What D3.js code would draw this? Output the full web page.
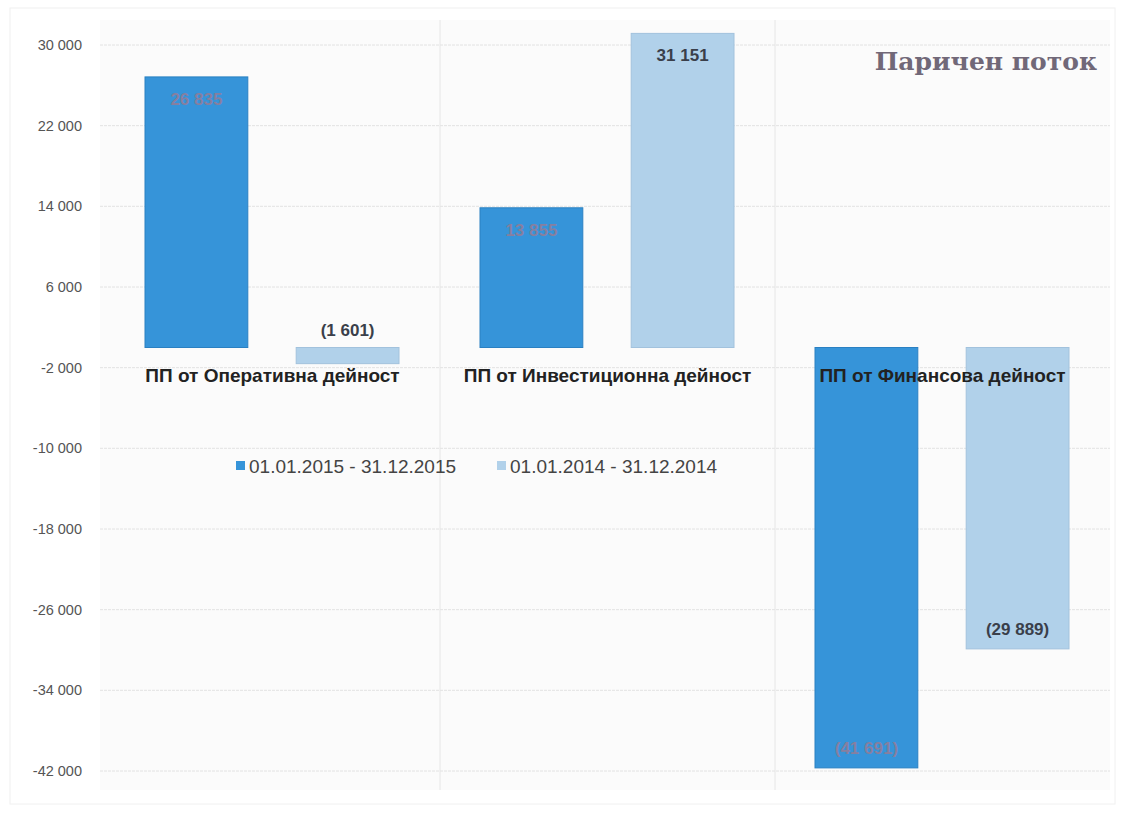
<!DOCTYPE html>
<html>
<head>
<meta charset="utf-8">
<script src="https://cdn.jsdelivr.net/npm/d3@7"></script>
<style>
  body { margin: 0; background: #fff; }
  svg text { font-family: "Liberation Sans", Arial, sans-serif; }
</style>
</head>
<body>
<div id="chart"></div>
<script>
// данни
const categories = ["ПП от Оперативна дейност", "ПП от Инвестиционна дейност", "ПП от Финансова дейност"];
const series = ["01.01.2015 - 31.12.2015", "01.01.2014 - 31.12.2014"];
const values2015 = [26835, 13855, -41691];
const values2014 = [-1601, 31151, -29889];
const yTicks = [30000, 22000, 14000, 6000, -2000, -10000, -18000, -26000, -34000, -42000];

const width = 1125, height = 816;
const colors = ["#3694d9", "#b1d1ea"];
const strokes = ["#2a80c2", "#a2c2dd"];

const svg = d3.select("#chart").append("svg")
  .attr("width", width).attr("height", height);

// рамка
svg.append("rect").attr("x", 10).attr("y", 8).attr("width", 1105).attr("height", 796)
  .attr("fill", "#fff").attr("stroke", "#f0f0f0");
svg.append("rect").attr("x", 100).attr("y", 20).attr("width", 1010).attr("height", 770)
  .attr("fill", "#fbfbfb");

const y = d3.scaleLinear().domain([-42000, 30000]).range([771, 45]);
const x = d3.scaleBand().domain(categories).range([105, 1110]);
const xs = d3.scaleBand().domain(series).range([40, 294]).paddingInner(0.32);

// мрежа
svg.append("g").selectAll("line").data(yTicks).join("line")
  .attr("x1", 100).attr("x2", 1110)
  .attr("y1", d => y(d)).attr("y2", d => y(d))
  .attr("stroke", "#e2e2e2").attr("stroke-dasharray", "3,1");
svg.append("g").selectAll("line").data(categories.slice(1)).join("line")
  .attr("x1", d => x(d)).attr("x2", d => x(d))
  .attr("y1", 20).attr("y2", 790)
  .attr("stroke", "#e6e6e6");

// ос Y
const fmt = v => d3.format(",")(Math.abs(v)).replace(/,/g, " ");
const yAxis = d3.axisLeft(y).tickValues(yTicks)
  .tickFormat(d => (d < 0 ? "-" : "") + fmt(d)).tickSize(0).tickPadding(0);
const ga = svg.append("g").attr("transform", "translate(82,0)").call(yAxis);
ga.select(".domain").remove();
ga.selectAll("text").attr("font-size", 14.5).attr("fill", "#555");

// колони
const rows = categories.map((c, i) => ({ cat: c, vals: [values2015[i], values2014[i]] }));
const g = svg.append("g");
rows.forEach(r => {
  r.vals.forEach((v, j) => {
    const bx = x(r.cat) + xs(series[j]);
    const top = y(Math.max(0, v)), bot = y(Math.min(0, v));
    g.append("rect").attr("x", bx).attr("y", top)
      .attr("width", xs.bandwidth()).attr("height", bot - top)
      .attr("fill", colors[j]).attr("stroke", strokes[j]).attr("stroke-width", 1);
    const label = v < 0 ? "(" + fmt(v) + ")" : fmt(v);
    let ly;
    if (Math.abs(y(v) - y(0)) < 30) ly = top - 12;
    else if (v >= 0) ly = top + 28;
    else ly = bot - 14;
    g.append("text").attr("x", bx + xs.bandwidth() / 2).attr("y", ly)
      .attr("text-anchor", "middle").attr("font-size", 17).attr("font-weight", "bold")
      .attr("fill", j === 0 ? "#9a7b93" : "#3a3f4a")
      .attr("opacity", j === 0 ? 0.8 : 1)
      .text(label);
  });
});

// имена на категориите
svg.append("g").selectAll("text").data(categories).join("text")
  .attr("x", d => x(d) + x.bandwidth() / 2).attr("y", 382)
  .attr("text-anchor", "middle").attr("font-size", 19).attr("font-weight", "bold")
  .attr("fill", "#222").text(d => d);

// легенда
const legend = svg.append("g").attr("transform", "translate(236,466)");
const legX = [0, 261];
series.forEach((s, i) => {
  legend.append("rect").attr("x", legX[i]).attr("y", -5).attr("width", 9).attr("height", 9)
    .attr("fill", colors[i]);
  legend.append("text").attr("x", legX[i] + 13).attr("y", 0).attr("dy", "0.35em")
    .attr("font-size", 19).attr("fill", "#444").text(s);
});

// заглавие
svg.append("text").attr("x", 1097).attr("y", 70).attr("text-anchor", "end")
  .attr("font-weight", "bold").attr("font-size", 25).attr("fill", "#716878")
  .style("font-family", "'DejaVu Serif', 'Liberation Serif', serif")
  .text("Паричен поток");
</script>
</body>
</html>
